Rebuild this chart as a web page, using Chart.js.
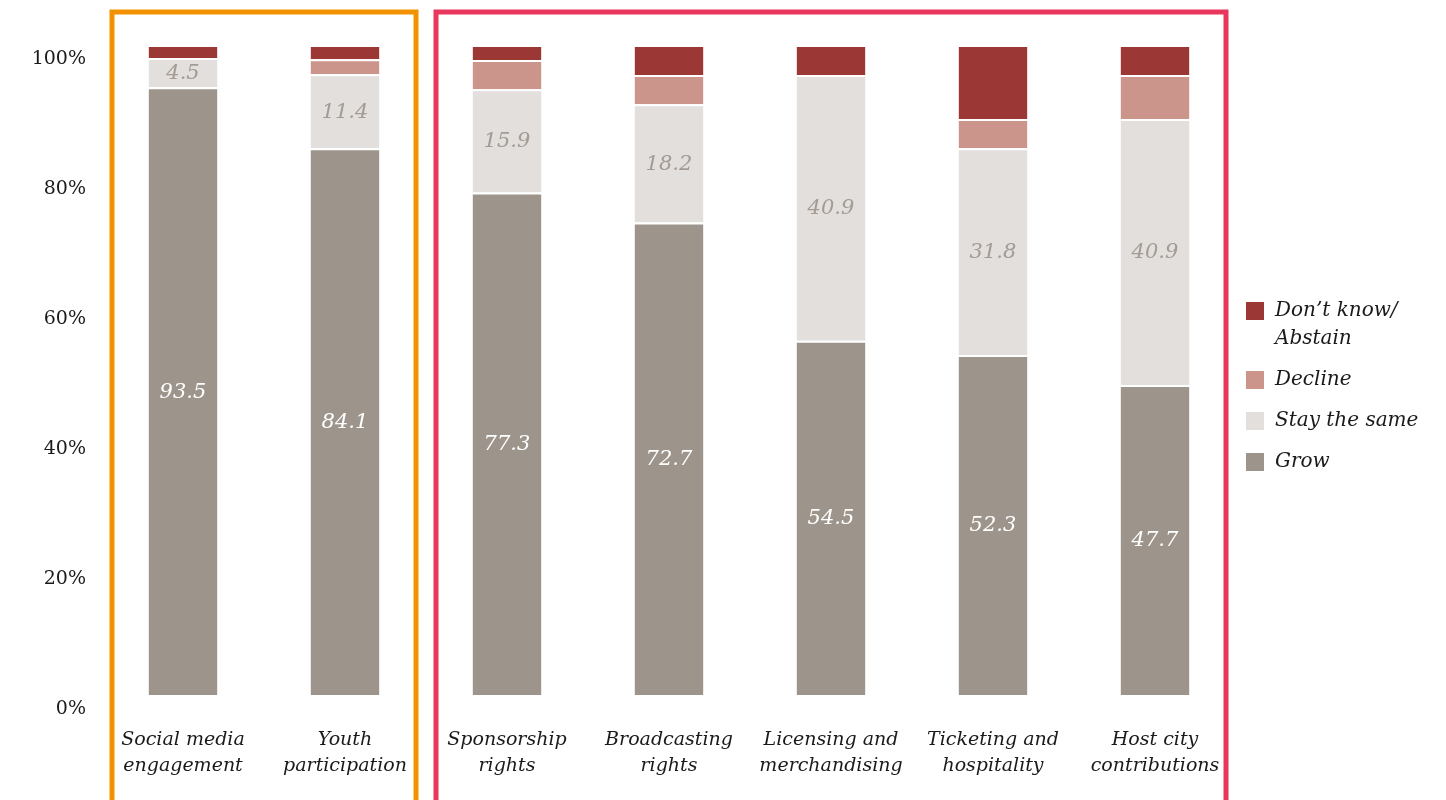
<!DOCTYPE html>
<html>
<head>
<meta charset="utf-8">
<script src="https://cdn.jsdelivr.net/npm/chart.js@4"></script>
<style>
  html, body { margin: 0; padding: 0; background: #fff; }
  #wrap { width: 1446px; height: 800px; }
</style>
</head>
<body>
<div id="wrap"><canvas id="canOutlook"></canvas></div>
<script>
const categories = [
  ['Social media', 'engagement'],
  ['Youth', 'participation'],
  ['Sponsorship', 'rights'],
  ['Broadcasting', 'rights'],
  ['Licensing and', 'merchandising'],
  ['Ticketing and', 'hospitality'],
  ['Host city', 'contributions']
]
const grow = [93.5, 84.1, 77.3, 72.7, 54.5, 52.3, 47.7]
const staySame = [4.5, 11.4, 15.9, 18.2, 40.9, 31.8, 40.9]
const decline = [0, 2.3, 4.5, 4.5, 0, 4.5, 6.8]
const dontKnow = [2.0, 2.2, 2.3, 4.6, 4.6, 11.4, 4.6]
const yTicks = [0, 20, 40, 60, 80, 100]

// category ranges that get an outline box: [first, last, colour]
const groups = [
  [0, 1, '#f39200'],
  [2, 6, '#e8365d']
]

const serif = "'DejaVu Serif', serif"
const ink = '#1a1a1a'

const groupBoxes = {
  id: 'groupBoxes',
  afterDraw (chart) {
    const { ctx, scales: { x } } = chart
    const half = (x.right - x.left) / categories.length / 2
    ctx.save()
    ctx.lineWidth = 5
    groups.forEach(([a, b, color]) => {
      const l = x.getPixelForValue(a) - half + 10
      const r = x.getPixelForValue(b) + half - 10
      ctx.strokeStyle = color
      ctx.strokeRect(l, 12, r - l, 800)
    })
    ctx.restore()
  }
}

// numbers inside the Grow and Stay the same segments
const segmentValues = {
  id: 'segmentValues',
  afterDatasetsDraw (chart) {
    const { ctx } = chart
    ctx.save()
    ctx.font = 'italic 21px ' + serif
    ctx.textAlign = 'center'
    ctx.textBaseline = 'middle'
    ;[[0, '#ffffff'], [1, '#a39b94']].forEach(([di, color]) => {
      const data = chart.data.datasets[di].data
      chart.getDatasetMeta(di).data.forEach((bar, i) => {
        const { x, y, base } = bar.getProps(['x', 'y', 'base'], true)
        ctx.fillStyle = color
        ctx.fillText(data[i].toFixed(1), x, (y + base) / 2 + 1)
      })
    })
    ctx.restore()
  }
}

// key on the right, top entry first
const sideLegend = {
  id: 'sideLegend',
  afterDraw (chart) {
    const { ctx, chartArea } = chart
    const x0 = chartArea.right + 10
    let y = chartArea.top + 266
    ctx.save()
    ctx.font = 'italic 20px ' + serif
    ctx.textBaseline = 'middle'
    chart.data.datasets.slice().reverse().forEach(ds => {
      const lines = [].concat(ds.label)
      ctx.fillStyle = ds.backgroundColor
      ctx.fillRect(x0, y - 9, 18, 18)
      ctx.fillStyle = ink
      lines.forEach((t, i) => ctx.fillText(t, x0 + 29, y + i * 28))
      y += (lines.length - 1) * 28 + 41
    })
    ctx.restore()
  }
}

const segBorder = { top: 2, left: 0, right: 0, bottom: 0 }

new Chart(document.getElementById('canOutlook'), {
  type: 'bar',
  data: {
    labels: categories,
    datasets: [
      { label: 'Grow', data: grow, backgroundColor: '#9d958b' },
      { label: 'Stay the same', data: staySame, backgroundColor: '#e2dfdc' },
      { label: 'Decline', data: decline, backgroundColor: '#cc958c' },
      { label: ['Don’t know/', 'Abstain'], data: dontKnow, backgroundColor: '#9b3835' }
    ].map(d => Object.assign(d, {
      borderColor: '#ffffff',
      borderWidth: segBorder,
      borderSkipped: false,
      categoryPercentage: 0.85,
      barPercentage: 0.5
    }))
  },
  options: {
    responsive: true,
    maintainAspectRatio: false,
    animation: false,
    layout: { padding: { left: 30, top: 45, bottom: 21, right: 210 } },
    scales: {
      x: {
        stacked: true,
        grid: { display: false, drawTicks: false },
        border: { display: false },
        afterFit (s) { s.height = 84 },
        ticks: {
          padding: 32,
          maxRotation: 0,
          color: ink,
          font: { family: serif, style: 'italic', size: 19, lineHeight: 1.37 }
        }
      },
      y: {
        stacked: true,
        min: 0,
        max: 100,
        afterBuildTicks (axis) {
          axis.ticks = yTicks.map(v => ({ value: v }))
        },
        afterFit (s) { s.width = 72 },
        grid: { display: false, drawTicks: false },
        border: { display: false },
        ticks: {
          padding: 16,
          labelOffset: 14,
          color: ink,
          font: { family: serif, size: 19 },
          callback: v => v + '%'
        }
      }
    },
    plugins: {
      tooltip: { enabled: false },
      legend: { display: false }
    }
  },
  plugins: [segmentValues, groupBoxes, sideLegend]
})
</script>
</body>
</html>
